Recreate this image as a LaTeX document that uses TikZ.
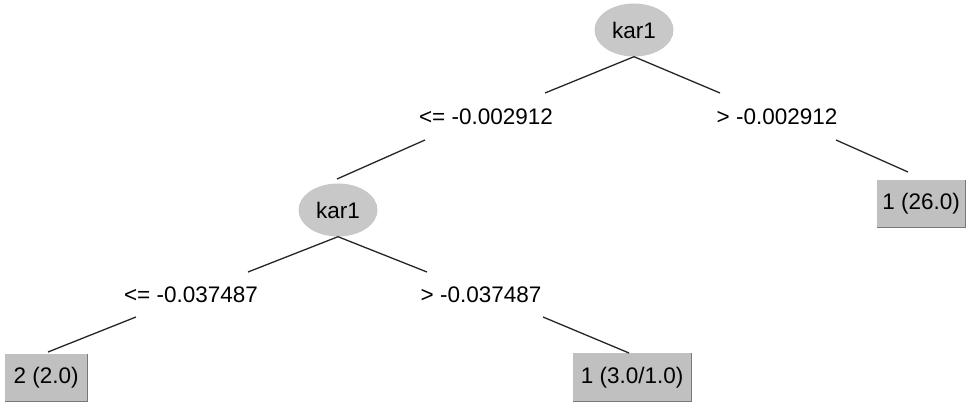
\documentclass[tikz,border=0pt]{standalone}
\usepackage{fontspec}
\setmainfont{Liberation Sans}
\usetikzlibrary{shapes.geometric,calc}
\definecolor{nodegray}{RGB}{200,200,200}
\definecolor{leafgray}{RGB}{192,192,192}
\definecolor{leafedge}{RGB}{120,120,120}
\begin{document}
\begin{tikzpicture}[x=1pt,y=-1pt,
  every node/.style={font=\fontsize{22.5}{26}\selectfont},
  split/.style={ellipse,fill=nodegray,draw=none,minimum width=79pt,minimum height=53pt,inner sep=0pt},
  cond/.style={inner sep=0pt},
  branch/.style={line width=1.3pt,black!85},
  leafbox/.style={fill=leafgray,draw=none,inner sep=0pt,anchor=north west}]
\useasboundingbox (0,0) rectangle (966,403);
\fill[white] (0,0) rectangle (966,403);

% decision nodes
\node[split] (root) at (634,30) {kar1};
\node[split] (inner) at (338,210) {kar1};

% branch conditions
\node[cond] (c1) at (486,117) {<= -0.002912};
\node[cond] (c2) at (777,117) {> -0.002912};
\node[cond] (c3) at (191,295) {<= -0.037487};
\node[cond] (c4) at (481,295) {> -0.037487};

% leaves (box with a darker right and bottom edge)
\newcommand{\leafnode}[6]{%
  \node[leafbox,minimum width=#4pt,minimum height=#5pt] (#1) at (#2,#3) {};
  \node at (#1.center) {#6};
  \draw[leafedge,line width=1.5pt] (#1.north east) -- (#1.south east) -- (#1.south west);
}
\leafnode{leafA}{877}{180}{88}{47}{1 (26.0)}
\leafnode{leafB}{5}{354}{82}{47}{2 (2.0)}
\leafnode{leafC}{573}{353}{118}{48}{1 (3.0/1.0)}

% connector end points next to the condition labels
\coordinate (c1in) at (545,93);
\coordinate (c2in) at (720,93);
\coordinate (c1out) at (425,140);
\coordinate (c2out) at (836,140);
\coordinate (c3in) at (248,272);
\coordinate (c4in) at (427,272);
\coordinate (c3out) at (136,317);
\coordinate (c4out) at (543,317);
\coordinate (leafAin) at (908,172);
\coordinate (leafBin) at (48,352);
\coordinate (leafCin) at (629,353);
\coordinate (innerin) at (337,179);

% connectors
\draw[branch] (root.south) -- (c1in);
\draw[branch] (root.south) -- (c2in);
\draw[branch] (c1out) -- (innerin);
\draw[branch] (c2out) -- (leafAin);
\draw[branch] (inner.south) -- (c3in);
\draw[branch] (inner.south) -- (c4in);
\draw[branch] (c3out) -- (leafBin);
\draw[branch] (c4out) -- (leafCin);
\end{tikzpicture}
\end{document}
